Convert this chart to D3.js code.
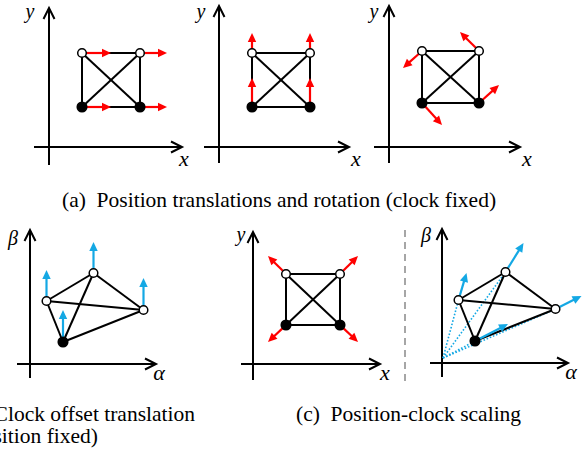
<!DOCTYPE html>
<html>
<head>
<meta charset="utf-8">
<script src="https://cdn.jsdelivr.net/npm/d3@7"></script>
<style>
  html, body { margin: 0; padding: 0; background: #fff; overflow: hidden; }
  svg { display: block; }
  text { font-family: "Liberation Serif", "Times New Roman", Times, "DejaVu Serif", serif; }
</style>
</head>
<body>
<svg id="fig" width="583" height="454"></svg>
<script>
// ---- Data (coordinates in diagram units, y pointing up, origin at the axis crossing) ----
const axisNamesX = ["x", "x", "x", "α", "x", "α"];
const axisNamesY = ["y", "y", "y", "β", "y", "β"];

const captionA = "(a)\u2002Position translations and rotation (clock fixed)";
const captionB1 = "(b)\u2002Clock offset translation";
const captionB2 = "(position fixed)";
const captionC = "(c)\u2002Position-clock scaling";

// square anchor layout (open = upper pair, filled = lower pair)
const squareNodes = [
  { id: "TL", x: 3.3, y: 9.4, filled: false },
  { id: "TR", x: 9.1, y: 9.4, filled: false },
  { id: "BL", x: 3.3, y: 4.0, filled: true },
  { id: "BR", x: 9.1, y: 4.0, filled: true }
];
const squareNodesRot = [
  { id: "TL", x: 3.3, y: 9.6, filled: false },
  { id: "TR", x: 9.0, y: 9.6, filled: false },
  { id: "BL", x: 3.3, y: 4.4, filled: true },
  { id: "BR", x: 9.0, y: 4.4, filled: true }
];
const squareNodesScaled = [
  { id: "TL", x: 3.3, y: 9.0, filled: false },
  { id: "TR", x: 8.7, y: 9.0, filled: false },
  { id: "BL", x: 3.3, y: 3.9, filled: true },
  { id: "BR", x: 8.7, y: 3.9, filled: true }
];
const squareEdges = [["TL", "TR"], ["TR", "BR"], ["BR", "BL"], ["BL", "TL"], ["TL", "BR"], ["TR", "BL"]];

// anchors in the (alpha, beta) plane
const quadNodes = [
  { id: "A", x: 1.65, y: 6.3, filled: false },
  { id: "B", x: 6.35, y: 9.1, filled: false },
  { id: "C", x: 11.35, y: 5.4, filled: false },
  { id: "D", x: 3.3, y: 2.2, filled: true }
];
const quadEdges = [["A", "B"], ["B", "C"], ["A", "C"], ["A", "D"], ["D", "B"], ["D", "C"]];

// displacement vectors attached to each node
const translateVecs = [
  { id: "TL", dx: 2.9, dy: 0 }, { id: "TR", dx: 2.7, dy: 0 },
  { id: "BL", dx: 2.9, dy: 0 }, { id: "BR", dx: 2.7, dy: 0 }
];
const liftVecs = [
  { id: "TL", dx: 0, dy: 2.0 }, { id: "TR", dx: 0, dy: 2.0 },
  { id: "BL", dx: 0, dy: 2.9 }, { id: "BR", dx: 0, dy: 2.9 }
];
const rotateVecs = [
  { id: "TL", dx: -1.9, dy: -1.7 }, { id: "TR", dx: -1.9, dy: 1.9 },
  { id: "BL", dx: 2.0, dy: -2.2 }, { id: "BR", dx: 2.0, dy: 1.8 }
];
const expandVecs = [
  { id: "TL", dx: -1.8, dy: 1.8 }, { id: "TR", dx: 1.8, dy: 1.8 },
  { id: "BL", dx: -1.8, dy: -1.7 }, { id: "BR", dx: 1.8, dy: -1.7 }
];
const clockOffsetVecs = [
  { id: "A", dx: 0, dy: 3.1 }, { id: "B", dx: 0, dy: 3.1 },
  { id: "C", dx: 0, dy: 3.2 }, { id: "D", dx: 0, dy: 3.2 }
];
const clockScaleVecs = [
  { id: "A", dx: 0.8, dy: 2.7 }, { id: "B", dx: 1.8, dy: 2.9 },
  { id: "C", dx: 2.6, dy: 1.3 }, { id: "D", dx: 3.3, dy: 1.7 }
];
const scaleCenter = { x: 0.1, y: 0.5 };

// ---- Layout ----
const UNIT = 10;
const RED = "#ff0000";
const BLUE = "#14a8e4";

const panels = [
  { origin: [49, 147], xExt: [-1.5, 13.3], yExt: [-1.8, 13.9], nodes: squareNodes, edges: squareEdges, vecs: translateVecs, color: RED,
    xLab: [135, 19], yLab: [-19, -129] },
  { origin: [219, 147], xExt: [-1.5, 13.0], yExt: [-1.6, 14.1], nodes: squareNodes, edges: squareEdges, vecs: liftVecs, color: RED,
    xLab: [137, 19], yLab: [-18, -129] },
  { origin: [389, 147], xExt: [-1.5, 13.1], yExt: [-1.6, 14.1], nodes: squareNodesRot, edges: squareEdges, vecs: rotateVecs, color: RED,
    xLab: [138, 19], yLab: [-15, -129] },
  { origin: [30, 364], xExt: [-1.3, 12.6], yExt: [-1.4, 13.4], nodes: quadNodes, edges: quadEdges, vecs: clockOffsetVecs, color: BLUE,
    xLab: [129, 16], yLab: [-17, -119] },
  { origin: [253, 364], xExt: [-1.2, 12.7], yExt: [-1.6, 13.2], nodes: squareNodesScaled, edges: squareEdges, vecs: expandVecs, color: RED,
    xLab: [132, 16], yLab: [-12, -123] },
  { origin: [442, 363], xExt: [-1.2, 12.6], yExt: [-1.4, 13.4], nodes: quadNodes, edges: quadEdges, vecs: clockScaleVecs, color: BLUE,
    xLab: [129, 16], yLab: [-16, -121], rays: scaleCenter }
];

const svg = d3.select("#fig");

function arrowHead(g, x1, y1, x2, y2, color, len, half) {
  const a = Math.atan2(y2 - y1, x2 - x1);
  const bx = x2 - len * Math.cos(a), by = y2 - len * Math.sin(a);
  const px = -Math.sin(a) * half, py = Math.cos(a) * half;
  g.append("path")
    .attr("d", `M${x2},${y2}L${bx + px},${by + py}L${bx - px},${by - py}Z`)
    .attr("fill", color);
  return [bx, by];
}

function chevron(g, x1, y1, x2, y2) {
  const a = Math.atan2(y2 - y1, x2 - x1);
  const len = 11, half = 5.5;
  const bx = x2 - len * Math.cos(a), by = y2 - len * Math.sin(a);
  const px = -Math.sin(a) * half, py = Math.cos(a) * half;
  g.append("path")
    .attr("d", `M${bx + px},${by + py}L${x2},${y2}L${bx - px},${by - py}`)
    .attr("fill", "none").attr("stroke", "#000").attr("stroke-width", 2)
    .attr("stroke-linejoin", "miter");
}

panels.forEach((p, i) => {
  const [ox, oy] = p.origin;
  const x = d3.scaleLinear().domain([0, 1]).range([ox, ox + UNIT]);
  const y = d3.scaleLinear().domain([0, 1]).range([oy, oy - UNIT]);
  const g = svg.append("g");

  // axes
  const gx = g.append("g");
  gx.append("line").attr("x1", x(p.xExt[0])).attr("x2", x(p.xExt[1]))
    .attr("y1", y(0)).attr("y2", y(0)).attr("stroke", "#000").attr("stroke-width", 2);
  chevron(gx, x(p.xExt[0]), y(0), x(p.xExt[1]), y(0));
  gx.append("line").attr("x1", x(0)).attr("x2", x(0))
    .attr("y1", y(p.yExt[0])).attr("y2", y(p.yExt[1])).attr("stroke", "#000").attr("stroke-width", 2);
  chevron(gx, x(0), y(p.yExt[0]), x(0), y(p.yExt[1]));

  g.append("text").attr("x", ox + p.xLab[0]).attr("y", oy + p.xLab[1])
    .attr("text-anchor", "middle")
    .attr("font-style", "italic").attr("font-size", 22).text(axisNamesX[i]);
  g.append("text").attr("x", ox + p.yLab[0]).attr("y", oy + p.yLab[1])
    .attr("text-anchor", "middle")
    .attr("font-style", "italic").attr("font-size", 20).text(axisNamesY[i]);

  const byId = new Map(p.nodes.map(n => [n.id, n]));

  // dotted rays from the scaling centre
  if (p.rays) {
    g.selectAll(".ray").data(p.nodes).enter().append("line")
      .attr("x1", x(p.rays.x)).attr("y1", y(p.rays.y))
      .attr("x2", d => x(d.x)).attr("y2", d => y(d.y))
      .attr("stroke", BLUE).attr("stroke-width", 1.6)
      .attr("stroke-dasharray", "1.6,1.8");
  }

  // edges
  g.selectAll(".edge").data(p.edges).enter().append("line")
    .attr("x1", d => x(byId.get(d[0]).x)).attr("y1", d => y(byId.get(d[0]).y))
    .attr("x2", d => x(byId.get(d[1]).x)).attr("y2", d => y(byId.get(d[1]).y))
    .attr("stroke", "#000").attr("stroke-width", 2);

  // displacement arrows
  p.vecs.forEach(v => {
    const n = byId.get(v.id);
    const sx0 = x(n.x), sy0 = y(n.y);
    const tx = x(n.x + v.dx), ty = y(n.y + v.dy);
    const a = Math.atan2(ty - sy0, tx - sx0);
    const sx = sx0 + 4.5 * Math.cos(a), sy = sy0 + 4.5 * Math.sin(a);
    const [bx, by] = arrowHead(g, sx, sy, tx, ty, p.color, 9, 4.2);
    g.append("line").attr("x1", sx).attr("y1", sy).attr("x2", bx + Math.cos(a)).attr("y2", by + Math.sin(a))
      .attr("stroke", p.color).attr("stroke-width", 2.2);
  });

  // nodes
  g.selectAll(".node").data(p.nodes).enter().append("circle")
    .attr("cx", d => x(d.x)).attr("cy", d => y(d.y))
    .attr("r", d => d.filled ? 4.8 : 4.3)
    .attr("fill", d => d.filled ? "#000" : "#fff")
    .attr("stroke", "#000").attr("stroke-width", 1.5);
});

// vertical dashed separator between the two scaling views
svg.append("line").attr("x1", 405).attr("x2", 405).attr("y1", 230).attr("y2", 382)
  .attr("stroke", "#a6a6a6").attr("stroke-width", 2).attr("stroke-dasharray", "7,5");

// captions
function caption(txt, xPos, yPos, anchor) {
  svg.append("text").attr("x", xPos).attr("y", yPos).attr("text-anchor", anchor)
    .attr("font-size", 21.5).attr("fill", "#000").text(txt);
}
caption(captionA, 62, 207, "start");
caption(captionB1, 195, 421, "end");
caption(captionB2, 98, 443, "end");
caption(captionC, 296, 421, "start");
</script>
</body>
</html>
